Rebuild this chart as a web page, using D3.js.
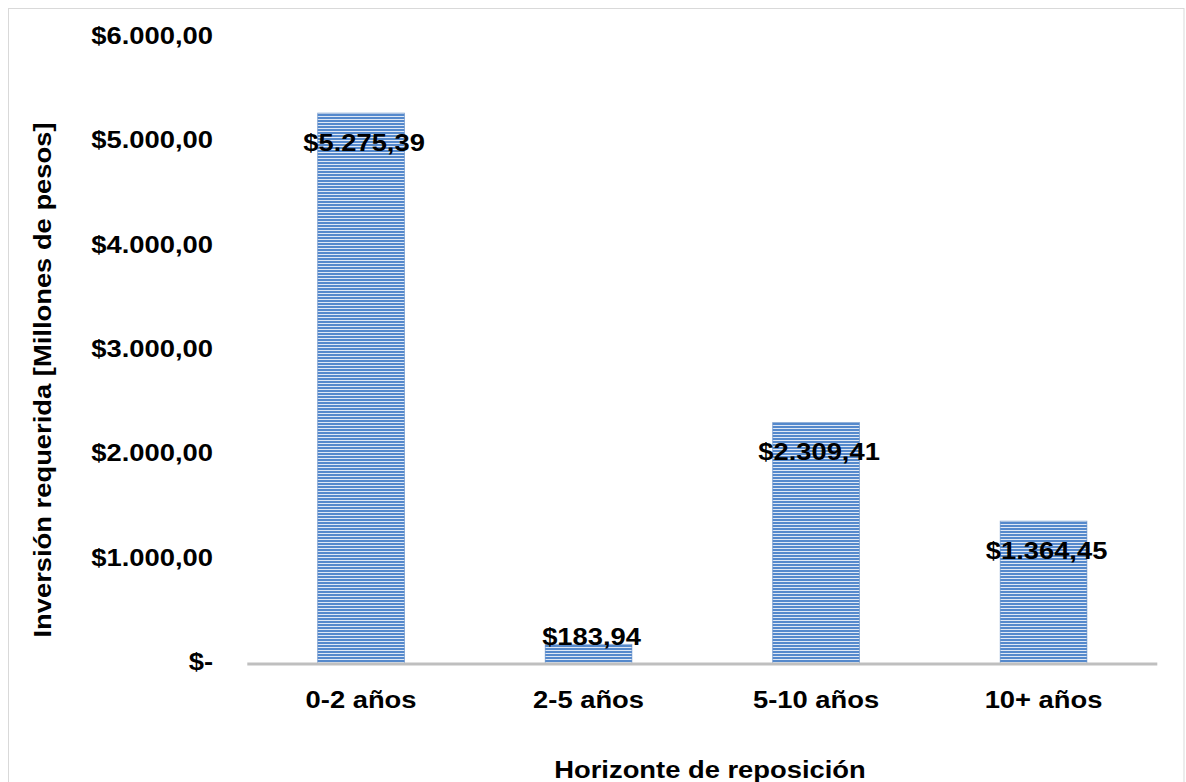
<!DOCTYPE html>
<html><head><meta charset="utf-8">
<script src="https://cdn.jsdelivr.net/npm/d3@7"></script>
<style>
body{margin:0;background:#fff}
svg{display:block}
text{font-family:"Liberation Sans",Arial,sans-serif;font-weight:bold;fill:#000}
</style>
</head><body>
<svg id="c" width="1186" height="782"></svg>
<script>
const categories = ["0-2 años", "2-5 años", "5-10 años", "10+ años"];
const values = [5275.39, 183.94, 2309.41, 1364.45];
const yTicks = [0, 1000, 2000, 3000, 4000, 5000, 6000];
const xTitle = "Horizonte de reposición";
const yTitle = "Inversión requerida [Millones de pesos]";

const SX = 1.14;          // horizontal glyph stretch of the reference text
const FS = 24;

const svg = d3.select("#c");
const loc = d3.formatLocale({decimal: ",", thousands: ".", grouping: [3], currency: ["$", ""]});
const money = v => v === 0 ? "$-" : loc.format("$,.2f")(v);

// chart border
svg.append("rect").attr("x", 8.5).attr("y", 8.5).attr("width", 1175.5).attr("height", 800)
  .attr("fill", "#fff").attr("stroke", "#d9d9d9").attr("stroke-width", 1);

// stripe pattern
const defs = svg.append("defs");
const pat = defs.append("pattern").attr("id", "stripes").attr("patternUnits", "userSpaceOnUse")
  .attr("width", 8).attr("height", 3);
pat.append("rect").attr("width", 8).attr("height", 3).attr("fill", "#dfe8f5");
pat.append("rect").attr("width", 8).attr("height", 2).attr("fill", "#5589cc");

const x = d3.scaleBand().domain(categories).range([247.3, 1157.3])
  .paddingInner(0.619).paddingOuter(0.3095);
const y = d3.scaleLinear().domain([0, 6000]).range([663.5, 37.5]);

function sText(g, px, py, str, anchor, rot) {
  return g.append("text")
    .attr("transform", `translate(${px},${py})` + (rot ? ` rotate(${rot})` : "") + ` scale(${SX},1)`)
    .attr("text-anchor", anchor)
    .style("font-size", FS + "px")
    .text(str);
}

// y tick labels via axis
const yAxis = d3.axisLeft(y).tickValues(yTicks).tickSize(0).tickFormat(money);
const gy = svg.append("g").attr("transform", "translate(213,0)").call(yAxis);
gy.select(".domain").remove();
gy.selectAll(".tick text")
  .attr("x", null).attr("dy", null)
  .attr("transform", `translate(0,6) scale(${SX},1)`)
  .attr("text-anchor", "end")
  .style("font-size", FS + "px")
  .style("font-family", '"Liberation Sans",Arial,sans-serif')
  .style("font-weight", "bold")
  .attr("fill", "#000");

// bars
svg.append("g").selectAll("rect").data(values).join("rect")
  .attr("x", (d, i) => x(categories[i]))
  .attr("width", x.bandwidth())
  .attr("y", d => y(d))
  .attr("height", d => y(0) - y(d))
  .attr("fill", "url(#stripes)")
  .attr("stroke", "#4f7fbf").attr("stroke-width", 0.8).attr("stroke-opacity", 0.7);

// baseline
svg.append("line").attr("x1", 247.3).attr("x2", 1157.3).attr("y1", y(0) + 0.5).attr("y2", y(0) + 0.5)
  .attr("stroke", "#bfbfbf").attr("stroke-width", 3);

// x category labels
const gx = svg.append("g");
categories.forEach(c => sText(gx, x(c) + x.bandwidth() / 2, 707.5, c, "middle"));

// data labels
const gl = svg.append("g");
values.forEach((v, i) => {
  const cx = x(categories[i]) + x.bandwidth() / 2 + 3;
  const by = Math.min(y(v) + 37.5, y(0) - 18.5);
  sText(gl, cx, by, money(v), "middle");
});

// axis titles
sText(svg, 710, 777.5, xTitle, "middle");
sText(svg, 51, 380, yTitle, "middle", -90);
</script>
</body></html>
